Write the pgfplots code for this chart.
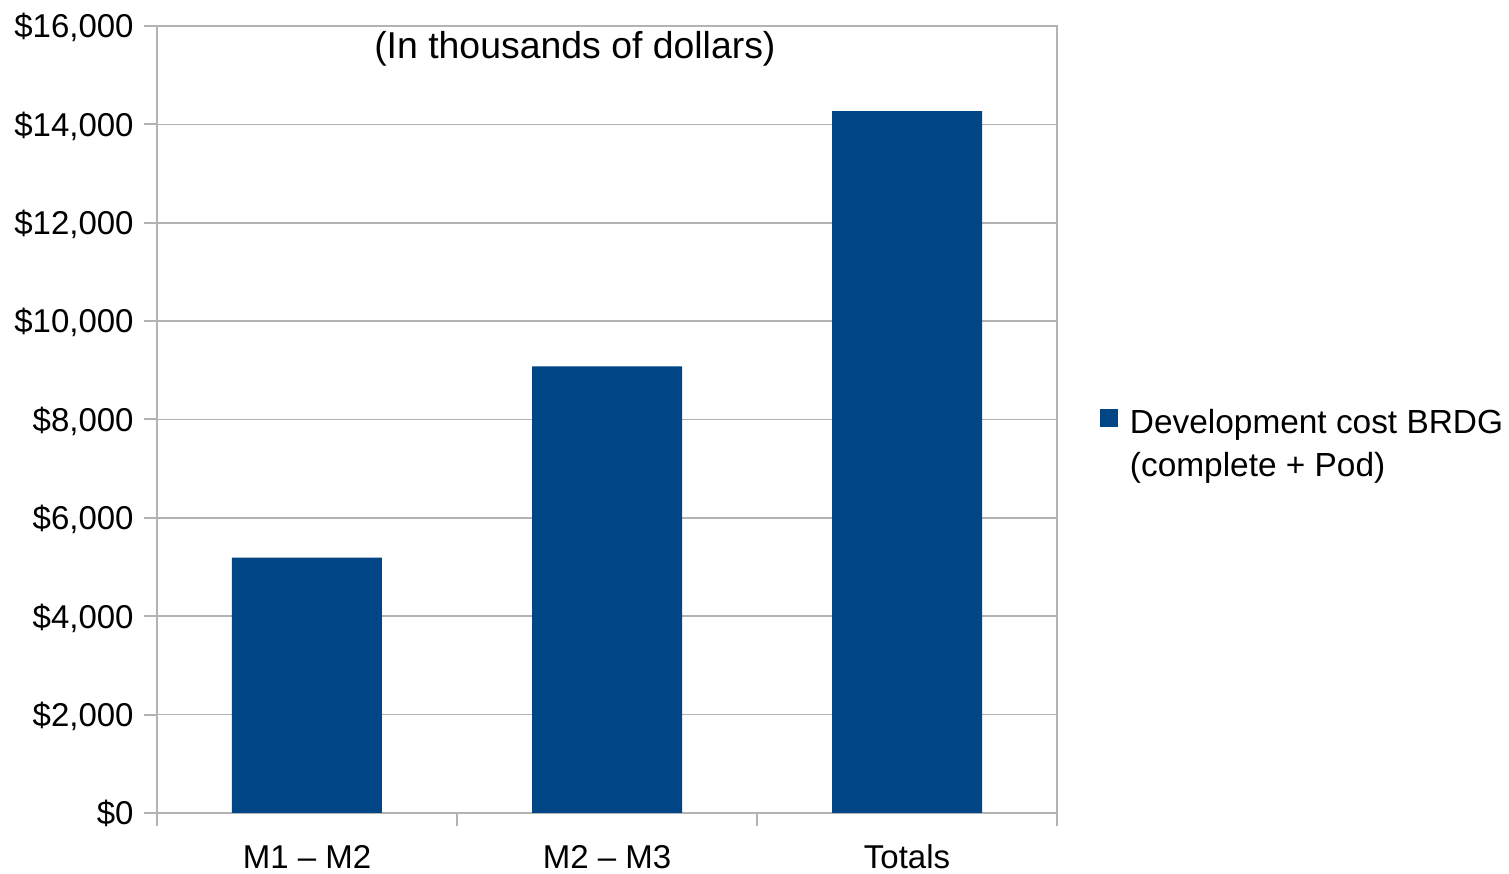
\documentclass[border=0pt]{standalone}
\usepackage{fontspec}
\setmainfont{Liberation Sans}
\usepackage{pgfplots}
\pgfplotsset{compat=1.18}
\definecolor{barblue}{HTML}{004586}
\definecolor{gridgray}{HTML}{B3B3B3}
\newcommand{\lbl}{\fontsize{16.5bp}{19.8bp}\selectfont}
\begin{document}
\begin{tikzpicture}
\useasboundingbox (-78.5bp,-30.5bp) rectangle (676bp,406.5bp);
\begin{axis}[
  scale only axis,
  width=450bp, height=393.5bp,
  xmin=-0.5, xmax=2.5,
  ymin=0, ymax=16000,
  axis line style={gridgray, line width=1bp},
  ytick={0,2000,...,16000},
  scaled y ticks=false,
  ytick pos=left,
  xtick pos=bottom,
  ymajorgrids,
  grid style={gridgray, line width=0.8bp},
  tick style={gridgray, line width=1bp},
  tick align=outside,
  major tick length=6.5bp,
  xtick={-0.5,0.5,1.5,2.5},
  xticklabels={},
  extra x ticks={0,1,2},
  extra x tick labels={M1 -- M2, M2 -- M3, Totals},
  extra x tick style={grid=none, tick style={draw=none}},
  /pgf/number format/assume math mode=true,
  /pgf/number format/1000 sep={,},
  yticklabel={\$\pgfmathprintnumber{\tick}},
  every tick label/.append style={font=\lbl, text=black},
  yticklabel style={anchor=base east, inner sep=0pt, yshift=-5.9bp, xshift=-5bp},
  xticklabel style={anchor=base, inner sep=0pt, yshift=-21bp},
  legend style={draw=none, fill=none, inner sep=0pt, outer sep=0pt,
    at={(axis description cs:1,0.5172)}, anchor=north west, xshift=21.5bp,
    row sep=4bp, column sep=0pt,
    cells={anchor=base west, font=\fontsize{16.7bp}{20bp}\selectfont, inner sep=0pt, text height=12bp, text depth=4bp}},
]
\addplot[ybar, bar width=0.5, fill=barblue, draw=none,
  legend image code/.code={\fill[barblue] (0bp,3.5bp) rectangle (9bp,12.5bp); \path (13bp,0bp);}]
  coordinates {(0,5190) (1,9080) (2,14270)};
\addlegendentry{Development cost BRDG}
\addlegendimage{empty legend}
\addlegendentry{(complete + Pod)}
\node[anchor=base, font=\fontsize{18.7bp}{22bp}\selectfont, inner sep=0pt] at (axis cs:0.893,15330) {(In thousands of dollars)};
\end{axis}
\end{tikzpicture}
\end{document}
